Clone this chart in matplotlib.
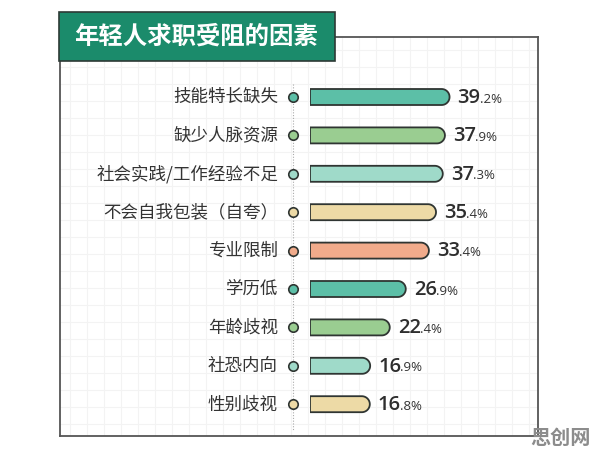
import matplotlib
matplotlib.use('Agg')
import matplotlib.pyplot as plt
from matplotlib.path import Path
from matplotlib.patches import PathPatch, Rectangle
import numpy as np

plt.rcParams['font.family'] = ['Noto Sans CJK SC', 'DejaVu Sans']

title = '年轻人求职受阻的因素'
labels = ['技能特长缺失', '缺少人脉资源', '社会实践/工作经验不足', '不会自我包装（自夸）',
          '专业限制', '学历低', '年龄歧视', '社恐内向', '性别歧视']
values = [39.2, 37.9, 37.3, 35.4, 33.4, 26.9, 22.4, 16.9, 16.8]
colors = ['#5cbfa7', '#9acd91', '#9fdac9', '#eddaa6', '#f1ab8b',
          '#5cbfa7', '#9acd91', '#9fdac9', '#eddaa6']
watermark = '思创网'

W, H = 596, 455
fig = plt.figure(figsize=(W / 100, H / 100), dpi=100)
fig.patch.set_facecolor('white')

def fx(px):
    return px / W

def fy(py):
    return 1 - py / H

# background frame with faint grid
bg = fig.add_axes([fx(60), fy(436), fx(538) - fx(60), fy(37) - fy(436)])
bg.set_xlim(60, 538)
bg.set_ylim(436, 37)
bg.set_xticks(np.arange(70, 538, 17))
bg.set_yticks(np.arange(50, 436, 17))
bg.grid(True, color='#f3f3f3', lw=0.8)
bg.tick_params(length=0, labelbottom=False, labelleft=False)
for s in bg.spines.values():
    s.set_color('#555555')
    s.set_linewidth(1.3)
bg.set_zorder(0)

# title box
fig.patches.append(Rectangle((fx(59), fy(61)), fx(335) - fx(59), fy(12) - fy(61),
                             transform=fig.transFigure, facecolor='#1b8b6b',
                             edgecolor='#2d3a35', lw=1.2, zorder=5))
fig.text(fx(196), fy(37), title, color='white', fontsize=17.6, fontweight='bold',
         ha='center', va='center', zorder=6)

# bars
n = len(values)
row_px = 38.4
sx = 3.56
xmax = 50
top_px = 97 - row_px / 2
ax = fig.add_axes([fx(310), fy(top_px + n * row_px), xmax * sx / W, n * row_px / H])
ax.set_xlim(0, xmax)
ax.set_ylim(n - 0.5, -0.5)
ax.axis('off')
ax.patch.set_alpha(0)

hd = 16 / row_px
rx = 8 / sx
t = np.linspace(-np.pi / 2, np.pi / 2, 30)
for i, (lab, v, c) in enumerate(zip(labels, values, colors)):
    verts = [(0, i - hd / 2)]
    verts += [(v - rx + rx * np.cos(a), i + hd / 2 * np.sin(a)) for a in t]
    verts += [(0, i + hd / 2), (0, i - hd / 2)]
    codes = [Path.MOVETO] + [Path.LINETO] * (len(verts) - 2) + [Path.CLOSEPOLY]
    ax.add_patch(PathPatch(Path(verts, codes), facecolor=c, edgecolor='#2f3532',
                           lw=1.3, zorder=3))
    ax.plot(-17 / sx, i, 'o', ms=6.8, mfc=c, mec='#2f3532', mew=1.2,
            zorder=4, clip_on=False)
    ax.text(-32 / sx, i, lab, ha='right', va='center', fontsize=12.6,
            fontweight='medium', color='#333333', clip_on=False)
    whole, frac = ('%.1f' % v).split('.')
    t1 = ax.text(v + 8 / sx, i + 0.02, whole, ha='left', va='center', fontsize=14.5,
                 color='#2e2e2e', family=['Open Sans', 'DejaVu Sans'], fontweight='semibold')
    ax.annotate('.' + frac + '%', xy=(1, 0), xycoords=t1, xytext=(-0.6, 1.6),
                textcoords='offset points', ha='left', va='bottom', fontsize=9.5,
                color='#333333', family=['Open Sans', 'DejaVu Sans'])

ax.plot([-17 / sx, -17 / sx], [-0.35, n - 0.3], ls=(0, (1, 1.5)), color='#aaaaaa',
        lw=0.8, zorder=2, clip_on=False)

fig.text(fx(560), fy(437), watermark, color='#8c8c8c', fontsize=14.5, fontweight='bold',
         ha='center', va='center', zorder=6)

fig.savefig('out.png', dpi=100, facecolor='white')
